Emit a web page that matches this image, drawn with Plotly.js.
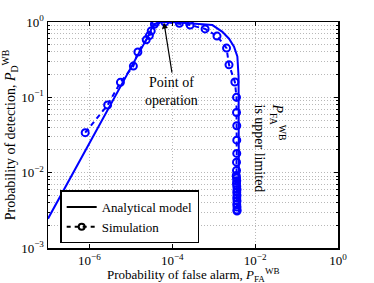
<!DOCTYPE html>
<html>
<head>
<meta charset="utf-8">
<script src="https://cdn.plot.ly/plotly-3.0.1.min.js"></script>
<style>html,body{margin:0;padding:0;background:#fff;}#plot{width:374px;height:283px;}</style>
</head>
<body>
<div id="plot"></div>
<script>
// Analytical model curve
const anaPfa = [1e-7, 1e-6, 1e-5, 2.5e-5, 3.55e-5, 5.0e-5, 1e-4, 1.58e-4, 3.0e-4, 9.3e-4, 1.62e-3, 2.34e-3, 3.09e-3, 3.72e-3, 3.98e-3, 4.07e-3];
const anaPd  = [0.00245, 0.0245, 0.25, 0.62, 0.93, 0.99, 1.0, 0.99, 0.955, 0.91, 0.74, 0.60, 0.47, 0.35, 0.19, 0.003];

// Simulation points
const simPfa = [7.9e-7, 2.75e-6, 5.6e-6, 1.15e-5, 1.48e-5, 2.35e-5, 2.8e-5, 3.1e-5, 3.7e-5, 4.0e-5, 6.6e-5, 1.48e-4, 2.7e-4, 6.2e-4, 1.2e-3, 2.04e-3, 2.34e-3, 3.24e-3, 3.55e-3, 3.55e-3, 3.6e-3, 3.6e-3, 3.6e-3, 3.55e-3, 3.55e-3,
                3.5e-3, 3.55e-3, 3.6e-3, 3.55e-3, 3.6e-3, 3.65e-3, 3.6e-3, 3.65e-3, 3.6e-3, 3.65e-3, 3.6e-3, 3.65e-3, 3.65e-3, 3.65e-3];
const simPd  = [0.034, 0.079, 0.158, 0.26, 0.40, 0.58, 0.66, 0.76, 0.93, 1.0, 1.0, 0.96, 0.91, 0.81, 0.65, 0.45, 0.27, 0.16, 0.10, 0.063, 0.042, 0.027, 0.018, 0.0138, 0.0107,
                0.0092, 0.0085, 0.0078, 0.0072, 0.0066, 0.006, 0.0055, 0.005, 0.0046, 0.0042, 0.0038, 0.0035, 0.0032, 0.0031];

// Tick labels
const xTickVals = [1e-6, 1e-4, 1e-2, 1];
const xTickText = ["10<sup>−6</sup>", "10<sup>−4</sup>", "10<sup>−2</sup>", "10<sup>0</sup>"];
const yTickVals = [1e-3, 1e-2, 1e-1, 1];
const yTickText = ["10<sup>−3</sup>", "10<sup>−2</sup>", "10<sup>−1</sup>", "10<sup>0</sup>"];

const xTitle = "Probability of false alarm, <i>P</i><sub>FA</sub><sup>WB</sup>";
const yTitle = "Probability of detection, <i>P</i><sub>D</sub><sup>WB</sup>";
const legendNames = ["Analytical model", "Simulation"];

const FONT = "Liberation Serif, DejaVu Serif, serif";
const BLUE = "#0000ff";

const yMinor = [];
for (let e = -3; e < 0; e++) for (let d = 2; d <= 9; d++) yMinor.push(d * Math.pow(10, e));

const traces = [
  {x: anaPfa, y: anaPd, mode: "lines", line: {color: BLUE, width: 2}, showlegend: false},
  {x: simPfa, y: simPd, mode: "lines+markers", line: {color: BLUE, width: 2, dash: "5px,4px"},
   marker: {symbol: "circle-open", size: 7, color: BLUE, line: {width: 2, color: BLUE}}, showlegend: false},
  {x: [null], y: [null], mode: "lines", name: legendNames[0], line: {color: "black", width: 2}},
  {x: [null], y: [null], mode: "lines+markers", name: legendNames[1], line: {color: "black", width: 2, dash: "4px,4px"},
   marker: {symbol: "circle-open", size: 6, color: "black", line: {width: 2, color: "black"}}}
];

const gridCol = "#b8b8b8";
const gridDash = "1px,2px";
const layout = {
  width: 374, height: 283,
  margin: {l: 48, r: 36, t: 22, b: 35},
  paper_bgcolor: "#fff", plot_bgcolor: "#fff",
  font: {family: FONT, size: 14, color: "black"},
  showlegend: true,
  legend: {x: 0.042, y: 0.02, xanchor: "left", yanchor: "bottom", bgcolor: "#fff",
           bordercolor: "black", borderwidth: 1.5, font: {family: FONT, size: 13}, tracegroupgap: 0,
           itemwidth: 30},
  xaxis: {
    type: "log", range: [-7, 0], tickmode: "array", tickvals: xTickVals, ticktext: xTickText,
    showline: true, linecolor: "black", linewidth: 1.5, mirror: "ticks",
    ticks: "inside", ticklen: 4, tickcolor: "black",
    showgrid: true, gridcolor: gridCol, griddash: gridDash, gridwidth: 1,
    zeroline: false, tickfont: {family: FONT, size: 13}
  },
  yaxis: {
    type: "log", range: [-3, 0], tickmode: "array", tickvals: yTickVals, ticktext: yTickText,
    showline: true, linecolor: "black", linewidth: 1.5, mirror: "ticks",
    ticks: "inside", ticklen: 4, tickcolor: "black",
    showgrid: true, gridcolor: gridCol, griddash: gridDash, gridwidth: 1,
    minor: {tickmode: "array", tickvals: yMinor, showgrid: true, gridcolor: gridCol, griddash: gridDash, gridwidth: 1, ticks: "inside", ticklen: 2, tickcolor: "black"},
    zeroline: false, tickfont: {family: FONT, size: 13},
    title: {text: yTitle, font: {family: FONT, size: 14}, standoff: 2}
  },
  annotations: [
    {x: 0.5, y: -0.118, xref: "paper", yref: "paper", showarrow: false, text: xTitle,
     xanchor: "center", yanchor: "middle", font: {family: FONT, size: 13}},
    {x: Math.log10(6.3e-5), y: Math.log10(0.98), xref: "x", yref: "y", ax: 8, ay: 50,
     text: "Point of<br>operation", showarrow: true, arrowhead: 2, arrowsize: 1, arrowwidth: 1.2, arrowcolor: "black",
     font: {family: FONT, size: 14}, yanchor: "top", xanchor: "center"},
    {x: Math.log10(2.3e-2), y: Math.log10(0.0215), xref: "x", yref: "y", showarrow: false, textangle: 90,
     text: "<i>P</i><sub>FA</sub><sup>WB</sup><br>is upper limited", align: "left",
     font: {family: FONT, size: 14}}
  ]
};

Plotly.newPlot("plot", traces, layout, {displayModeBar: false, staticPlot: true});
</script>
</body>
</html>
